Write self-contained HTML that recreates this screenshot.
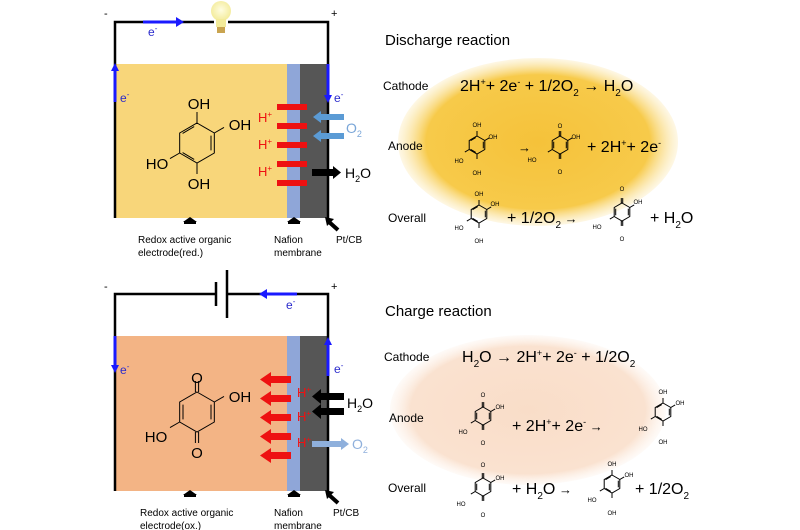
<!DOCTYPE html>
<html><head><meta charset="utf-8"><style>
html,body{margin:0;padding:0;background:#fff}
svg{display:block}
text{font-family:"Liberation Sans",sans-serif}
</style></head><body>
<svg width="800" height="530" viewBox="0 0 800 530" xmlns="http://www.w3.org/2000/svg">
<defs>
<radialGradient id="gy" cx="50%" cy="50%" r="50%">
<stop offset="0" stop-color="#f5c23a"/><stop offset="0.8" stop-color="#f7ca4a"/><stop offset="1" stop-color="#fbe6a8" stop-opacity="0.3"/>
</radialGradient>
<radialGradient id="gp" cx="50%" cy="50%" r="50%">
<stop offset="0" stop-color="#f9ddc8"/><stop offset="0.85" stop-color="#fae2d0"/><stop offset="1" stop-color="#fdf0e6" stop-opacity="0.3"/>
</radialGradient>
<radialGradient id="gb" cx="50%" cy="45%" r="55%">
<stop offset="0" stop-color="#fffde0"/><stop offset="1" stop-color="#f3eb9a"/>
</radialGradient>
<symbol id="hq" viewBox="-2 -2 4 4" overflow="visible">
<g fill="none" stroke="#000" stroke-width="1">
<polygon points="0,-1 0.866,-0.5 0.866,0.5 0,1 -0.866,0.5 -0.866,-0.5" vector-effect="non-scaling-stroke"/>
<polyline points="0.7,-0.37 0.7,0.37" vector-effect="non-scaling-stroke"/>
<polyline points="-0.14,0.82 -0.72,0.48" vector-effect="non-scaling-stroke"/>
<polyline points="-0.14,-0.82 -0.72,-0.48" vector-effect="non-scaling-stroke"/>
<line x1="0" y1="-1" x2="0" y2="-1.55" vector-effect="non-scaling-stroke"/>
<line x1="0" y1="1" x2="0" y2="1.55" vector-effect="non-scaling-stroke"/>
<line x1="0.866" y1="-0.5" x2="1.35" y2="-0.78" vector-effect="non-scaling-stroke"/>
<line x1="-0.866" y1="0.5" x2="-1.35" y2="0.78" vector-effect="non-scaling-stroke"/>
</g></symbol>
<symbol id="qn" viewBox="-2 -2 4 4" overflow="visible">
<g fill="none" stroke="#000" stroke-width="1">
<polygon points="0,-1 0.866,-0.5 0.866,0.5 0,1 -0.866,0.5 -0.866,-0.5" vector-effect="non-scaling-stroke"/>
<line x1="0.7" y1="-0.37" x2="0.7" y2="0.37" vector-effect="non-scaling-stroke"/>
<line x1="-0.7" y1="-0.37" x2="-0.7" y2="0.37" vector-effect="non-scaling-stroke"/>
<line x1="-0.08" y1="-1" x2="-0.08" y2="-1.55" vector-effect="non-scaling-stroke"/>
<line x1="0.08" y1="-1" x2="0.08" y2="-1.55" vector-effect="non-scaling-stroke"/>
<line x1="-0.08" y1="1" x2="-0.08" y2="1.55" vector-effect="non-scaling-stroke"/>
<line x1="0.08" y1="1" x2="0.08" y2="1.55" vector-effect="non-scaling-stroke"/>
<line x1="0.866" y1="-0.5" x2="1.35" y2="-0.78" vector-effect="non-scaling-stroke"/>
<line x1="-0.866" y1="0.5" x2="-1.35" y2="0.78" vector-effect="non-scaling-stroke"/>
</g></symbol>
</defs>

<!-- ===== TOP PANEL ===== -->
<rect x="115" y="64" width="172" height="154" fill="#f8d67a"/>
<rect x="287" y="64" width="13" height="154" fill="#8fa6d8"/>
<rect x="300" y="64" width="28" height="154" fill="#565656"/>
<polyline points="115,218 115,22 328,22 328,218" fill="none" stroke="#000" stroke-width="2.5"/>
<text x="104" y="17" font-size="11">-</text>
<text x="331" y="17" font-size="11">+</text>
<rect x="214" y="20" width="14" height="5" fill="#fff"/>
<circle cx="221" cy="11" r="10" fill="url(#gb)"/>
<rect x="216" y="19" width="10" height="8" fill="#f3eb9a"/>
<rect x="217" y="27" width="8" height="6" fill="#c9a450"/>
<line x1="143" y1="22" x2="178" y2="22" stroke="#1a1aff" stroke-width="3"/>
<polygon points="176,17 184,22 176,27" fill="#1a1aff"/>
<text x="148" y="36" font-size="12" fill="#2a2acc">e<tspan font-size="8" dy="-5">-</tspan></text>
<line x1="115" y1="102" x2="115" y2="70" stroke="#1a1aff" stroke-width="3"/>
<polygon points="111,71 115,63 119,71" fill="#1a1aff"/>
<text x="120" y="102" font-size="12" fill="#2a2acc">e<tspan font-size="8" dy="-5">-</tspan></text>
<line x1="328" y1="64" x2="328" y2="96" stroke="#1a1aff" stroke-width="3"/>
<polygon points="324,95 328,103 332,95" fill="#1a1aff"/>
<text x="334" y="102" font-size="12" fill="#2a2acc">e<tspan font-size="8" dy="-5">-</tspan></text>
<use href="#hq" x="157" y="103" width="80" height="80"/>
<g font-size="15" text-anchor="middle">
<text x="199" y="109">OH</text><text x="240" y="130">OH</text>
<text x="157" y="169">HO</text><text x="199" y="189">OH</text>
</g>
<g fill="#ee1111">
<rect x="277" y="104" width="30" height="6"/><rect x="277" y="123" width="30" height="6"/>
<rect x="277" y="142" width="30" height="6"/><rect x="277" y="161" width="30" height="6"/>
<rect x="277" y="180" width="30" height="6"/>
</g>
<g fill="#ee1111" font-size="13"><text x="258" y="122">H<tspan font-size="8" dy="-5">+</tspan></text>
<text x="258" y="149">H<tspan font-size="8" dy="-5">+</tspan></text>
<text x="258" y="176">H<tspan font-size="8" dy="-5">+</tspan></text></g>
<g fill="#5b9bd5"><rect x="320" y="114" width="24" height="6"/><polygon points="321,111 313,117 321,123"/>
<rect x="320" y="133" width="24" height="6"/><polygon points="321,130 313,136 321,142"/></g>
<text x="346" y="133" font-size="14" fill="#7aa6d8">O<tspan font-size="9" dy="4">2</tspan></text>
<rect x="312" y="169" width="22" height="7" fill="#000"/><polygon points="333,166 341,172.5 333,179" fill="#000"/>
<text x="345" y="178" font-size="14">H<tspan font-size="9" dy="4">2</tspan><tspan dy="-4">O</tspan></text>
<polygon points="183,222 190,217 197,222" fill="#000"/><rect x="184" y="221" width="12" height="3" fill="#000"/>
<polygon points="287,222 294,217 301,222" fill="#000"/><rect x="288" y="221" width="12" height="3" fill="#000"/>
<line x1="338" y1="230" x2="328" y2="221" stroke="#000" stroke-width="4"/><polygon points="325,217 334,219 327,226" fill="#000"/>
<g font-size="10"><text x="138" y="243">Redox active organic</text><text x="138" y="256">electrode(red.)</text>
<text x="274" y="243">Nafion</text><text x="274" y="256">membrane</text><text x="336" y="243">Pt/CB</text></g>

<!-- ===== BOTTOM PANEL ===== -->
<rect x="115" y="336" width="172" height="155" fill="#f3b485"/>
<rect x="287" y="336" width="13" height="155" fill="#8fa6d8"/>
<rect x="300" y="336" width="28" height="155" fill="#565656"/>
<polyline points="115,491 115,294 216,294" fill="none" stroke="#000" stroke-width="2.5"/>
<polyline points="227,294 328,294 328,491" fill="none" stroke="#000" stroke-width="2.5"/>
<line x1="216" y1="282" x2="216" y2="306" stroke="#000" stroke-width="2.5"/>
<line x1="227" y1="270" x2="227" y2="318" stroke="#000" stroke-width="2.5"/>
<text x="104" y="290" font-size="11">-</text>
<text x="331" y="290" font-size="11">+</text>
<line x1="297" y1="294" x2="266" y2="294" stroke="#1a1aff" stroke-width="3"/>
<polygon points="267,289 259,294 267,299" fill="#1a1aff"/>
<text x="286" y="309" font-size="12" fill="#2a2acc">e<tspan font-size="8" dy="-5">-</tspan></text>
<line x1="115" y1="336" x2="115" y2="366" stroke="#1a1aff" stroke-width="3"/>
<polygon points="111,365 115,373 119,365" fill="#1a1aff"/>
<text x="120" y="374" font-size="12" fill="#2a2acc">e<tspan font-size="8" dy="-5">-</tspan></text>
<line x1="328" y1="376" x2="328" y2="344" stroke="#1a1aff" stroke-width="3"/>
<polygon points="324,345 328,337 332,345" fill="#1a1aff"/>
<text x="334" y="373" font-size="12" fill="#2a2acc">e<tspan font-size="8" dy="-5">-</tspan></text>
<use href="#qn" x="157" y="372" width="80" height="80"/>
<g font-size="15" text-anchor="middle">
<text x="197" y="383">O</text><text x="240" y="402">OH</text>
<text x="156" y="442">HO</text><text x="197" y="458">O</text>
</g>
<g fill="#ee1111">
<rect x="270" y="376" width="21" height="7"/><polygon points="271,372 260,379.5 271,387"/>
<rect x="270" y="395" width="21" height="7"/><polygon points="271,391 260,398.5 271,406"/>
<rect x="270" y="414" width="21" height="7"/><polygon points="271,410 260,417.5 271,425"/>
<rect x="270" y="433" width="21" height="7"/><polygon points="271,429 260,436.5 271,444"/>
<rect x="270" y="452" width="21" height="7"/><polygon points="271,448 260,455.5 271,463"/>
</g>
<g fill="#ee1111" font-size="13"><text x="297" y="397">H<tspan font-size="8" dy="-5">+</tspan></text>
<text x="297" y="421">H<tspan font-size="8" dy="-5">+</tspan></text>
<text x="297" y="447">H<tspan font-size="8" dy="-5">+</tspan></text></g>
<g fill="#000"><rect x="320" y="393" width="24" height="7"/><polygon points="321,389 312,396.5 321,404"/>
<rect x="320" y="408" width="24" height="7"/><polygon points="321,404 312,411.5 321,419"/></g>
<text x="347" y="408" font-size="14">H<tspan font-size="9" dy="4">2</tspan><tspan dy="-4">O</tspan></text>
<rect x="312" y="441" width="30" height="6" fill="#8fb0dc"/><polygon points="341,438 349,444 341,450" fill="#8fb0dc"/>
<text x="352" y="449" font-size="14" fill="#8fb0dc">O<tspan font-size="9" dy="4">2</tspan></text>
<polygon points="183,495 190,490 197,495" fill="#000"/><rect x="184" y="494" width="12" height="3" fill="#000"/>
<polygon points="287,495 294,490 301,495" fill="#000"/><rect x="288" y="494" width="12" height="3" fill="#000"/>
<line x1="338" y1="503" x2="328" y2="494" stroke="#000" stroke-width="4"/><polygon points="325,490 334,492 327,499" fill="#000"/>
<g font-size="10"><text x="140" y="516">Redox active organic</text><text x="140" y="529">electrode(ox.)</text>
<text x="274" y="516">Nafion</text><text x="274" y="529">membrane</text><text x="333" y="516">Pt/CB</text></g>

<!-- ===== RIGHT: discharge ===== -->
<ellipse cx="538" cy="142" rx="140" ry="84" fill="url(#gy)"/>
<text x="385" y="45" font-size="15">Discharge reaction</text>
<text x="383" y="90" font-size="12">Cathode</text>
<text x="460" y="91" font-size="16">2H<tspan font-size="9" dy="-6">+</tspan><tspan dy="6">+ 2e</tspan><tspan font-size="9" dy="-6">-</tspan><tspan dy="6"> + 1/2O</tspan><tspan font-size="10" dy="5">2</tspan><tspan dy="-5"> → H</tspan><tspan font-size="10" dy="5">2</tspan><tspan dy="-5">O</tspan></text>
<text x="388" y="150" font-size="12">Anode</text>
<g stroke="#333">
<use href="#hq" x="459" y="127" width="36" height="36"/>
<use href="#qn" x="542" y="127" width="36" height="36"/>
<use href="#hq" x="461" y="196" width="36" height="36"/>
<use href="#qn" x="604" y="194" width="36" height="36"/>
<use href="#qn" x="465" y="398" width="36" height="36"/>
<use href="#hq" x="645" y="394" width="36" height="36"/>
<use href="#qn" x="465" y="469" width="36" height="36"/>
<use href="#hq" x="594" y="466" width="36" height="36"/>
</g>
<g font-size="6" text-anchor="middle"><text x="477" y="127">OH</text><text x="493" y="139">OH</text><text x="459" y="163">HO</text><text x="477" y="175">OH</text></g>
<text x="518" y="152" font-size="13">→</text>
<g font-size="6" text-anchor="middle"><text x="560" y="128">O</text><text x="576" y="139">OH</text><text x="532" y="162">HO</text><text x="560" y="174">O</text></g>
<text x="587" y="152" font-size="16">+  2H<tspan font-size="9" dy="-6">+</tspan><tspan dy="6">+ 2e</tspan><tspan font-size="9" dy="-6">-</tspan></text>
<text x="388" y="222" font-size="12">Overall</text>
<g font-size="6" text-anchor="middle"><text x="479" y="196">OH</text><text x="495" y="206">OH</text><text x="459" y="230">HO</text><text x="479" y="243">OH</text></g>
<text x="507" y="223" font-size="16">+ 1/2O<tspan font-size="10" dy="5">2</tspan><tspan dy="-5" font-size="13"> →</tspan></text>
<g font-size="6" text-anchor="middle"><text x="622" y="191">O</text><text x="638" y="204">OH</text><text x="597" y="229">HO</text><text x="622" y="241">O</text></g>
<text x="650" y="223" font-size="16">+ H<tspan font-size="10" dy="5">2</tspan><tspan dy="-5">O</tspan></text>

<!-- ===== RIGHT: charge ===== -->
<ellipse cx="528" cy="410" rx="138" ry="75" fill="url(#gp)" style="mix-blend-mode:multiply"/>
<text x="385" y="316" font-size="15">Charge reaction</text>
<text x="384" y="361" font-size="12">Cathode</text>
<text x="462" y="362" font-size="16">H<tspan font-size="10" dy="5">2</tspan><tspan dy="-5">O → 2H</tspan><tspan font-size="9" dy="-6">+</tspan><tspan dy="6">+ 2e</tspan><tspan font-size="9" dy="-6">-</tspan><tspan dy="6"> + 1/2O</tspan><tspan font-size="10" dy="5">2</tspan></text>
<text x="389" y="422" font-size="12">Anode</text>
<g font-size="6" text-anchor="middle"><text x="483" y="397">O</text><text x="500" y="409">OH</text><text x="463" y="434">HO</text><text x="483" y="445">O</text></g>
<text x="512" y="431" font-size="16">+  2H<tspan font-size="9" dy="-6">+</tspan><tspan dy="6">+ 2e</tspan><tspan font-size="9" dy="-6">-</tspan><tspan dy="6" font-size="13"> →</tspan></text>
<g font-size="6" text-anchor="middle"><text x="663" y="394">OH</text><text x="680" y="405">OH</text><text x="643" y="431">HO</text><text x="663" y="444">OH</text></g>
<text x="388" y="492" font-size="12">Overall</text>
<g font-size="6" text-anchor="middle"><text x="483" y="467">O</text><text x="500" y="480">OH</text><text x="461" y="506">HO</text><text x="483" y="517">O</text></g>
<text x="512" y="494" font-size="16">+ H<tspan font-size="10" dy="5">2</tspan><tspan dy="-5">O</tspan><tspan font-size="13"> →</tspan></text>
<g font-size="6" text-anchor="middle"><text x="612" y="466">OH</text><text x="629" y="477">OH</text><text x="592" y="502">HO</text><text x="612" y="515">OH</text></g>
<text x="635" y="494" font-size="16">+ 1/2O<tspan font-size="10" dy="5">2</tspan></text>
</svg>
</body></html>
